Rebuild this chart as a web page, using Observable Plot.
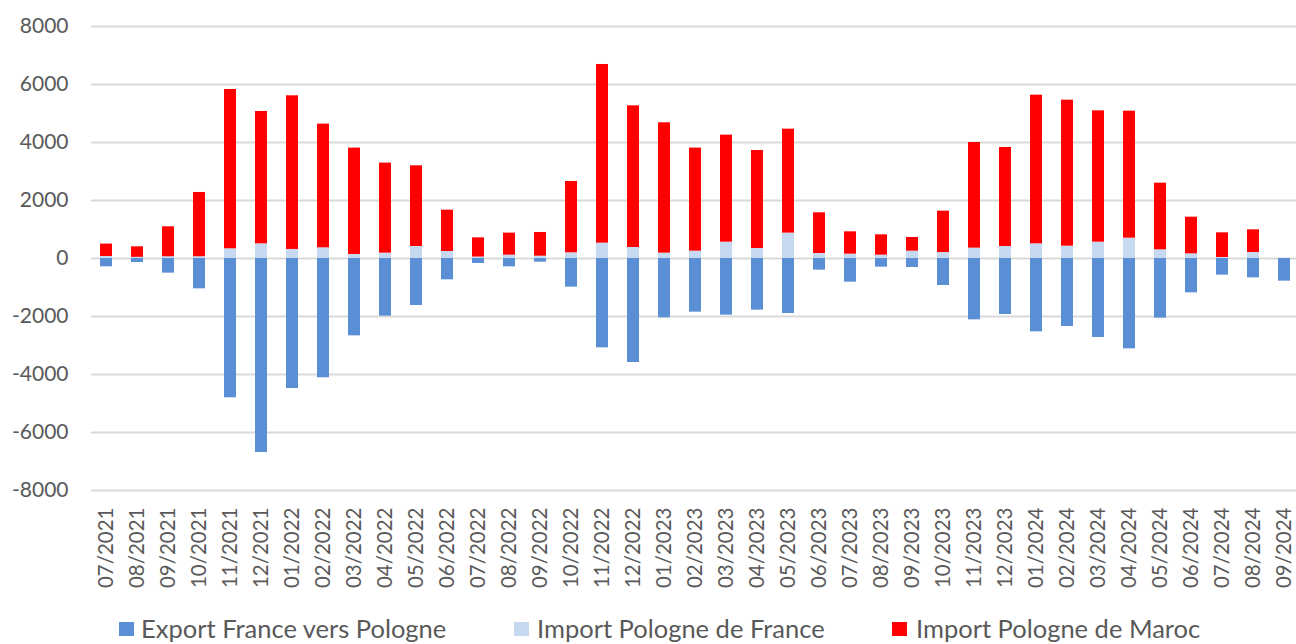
<!DOCTYPE html>
<html>
<head>
<meta charset="utf-8">
<script src="https://cdn.jsdelivr.net/npm/d3@7"></script>
<script src="https://cdn.jsdelivr.net/npm/@observablehq/plot@0.6"></script>
<style>
  html, body { margin: 0; padding: 0; background: #fff; }
  #chart { width: 1296px; height: 644px; position: relative; overflow: hidden; }
  .sw { position: absolute; top: 622px; width: 15px; height: 14px; }
  .lt { position: absolute; top: 615px; line-height: 26px; font-family: Lato, "Open Sans", sans-serif; font-size: 25.5px; color: #595959; white-space: nowrap; }
</style>
</head>
<body>
<div id="chart"></div>
<script>
const months = ["07/2021","08/2021","09/2021","10/2021","11/2021","12/2021","01/2022","02/2022","03/2022","04/2022","05/2022","06/2022","07/2022","08/2022","09/2022","10/2022","11/2022","12/2022","01/2023","02/2023","03/2023","04/2023","05/2023","06/2023","07/2023","08/2023","09/2023","10/2023","11/2023","12/2023","01/2024","02/2024","03/2024","04/2024","05/2024","06/2024","07/2024","08/2024","09/2024"];

const exportFranceVersPologne = [-286,-138,-504,-1045,-4803,-6689,-4483,-4114,-2667,-1988,-1620,-735,-172,-287,-126,-988,-3081,-3586,-2046,-1850,-1954,-1781,-1896,-402,-816,-298,-310,-931,-2115,-1931,-2529,-2345,-2724,-3115,-2057,-1184,-574,-667,-781];

const importPologneDeFrance = [69,40,60,60,334,506,312,368,139,185,414,242,50,115,80,196,529,379,185,253,563,345,875,173,150,115,253,207,357,414,506,425,563,701,299,161,35,207,0];

const importPologneDeMaroc = [428,363,1033,2216,5494,4563,5298,4266,3668,3105,2782,1425,663,760,817,2460,6161,4886,4494,3554,3690,3379,3585,1402,770,701,472,1426,3643,3414,5126,5035,4529,4379,2299,1264,850,782,0];

const seriesNames = ["Export France vers Pologne", "Import Pologne de France", "Import Pologne de Maroc"];
const seriesColors = ["#5A8FD6", "#C6D9F0", "#FF0000"];
const yTicks = [-8000,-6000,-4000,-2000,0,2000,4000,6000,8000];

const seriesValues = [exportFranceVersPologne, importPologneDeFrance, importPologneDeMaroc];
const rows = [];
seriesNames.forEach((s, si) => {
  months.forEach((m, i) => rows.push({month: m, series: s, value: seriesValues[si][i]}));
});

const plot = Plot.plot({
  width: 1296,
  height: 612,
  marginLeft: 91,
  marginRight: 0,
  marginTop: 26,
  marginBottom: 122,
  style: {fontFamily: "Lato, 'Open Sans', sans-serif", color: "#595959", background: "#fff"},
  x: {domain: months, range: [91, 1300], paddingInner: 0.61, paddingOuter: 0.305, label: null},
  y: {domain: [-8000, 8000], label: null},
  color: {domain: seriesNames, range: seriesColors},
  marks: [
    Plot.gridY(yTicks, {stroke: "#d9d9d9", strokeOpacity: 1, strokeWidth: 2}),
    Plot.barY(rows, {x: "month", y: "value", fill: "series", order: seriesNames}),
    Plot.axisY(yTicks, {tickSize: 0, tickPadding: 23, fontSize: 21, fill: "#595959", label: null, tickFormat: d => String(d)}),
    Plot.axisX({tickSize: 0, tickRotate: -90, tickPadding: 17, fontSize: 20.5, fill: "#595959", label: null})
  ]
});

const chart = document.getElementById("chart");
chart.appendChild(plot);

const swLefts = [119, 514, 892];
const textLefts = [141, 537, 916];
seriesNames.forEach((s, i) => {
  const sw = document.createElement("div");
  sw.className = "sw";
  sw.style.left = swLefts[i] + "px";
  sw.style.background = seriesColors[i];
  const t = document.createElement("div");
  t.className = "lt";
  t.style.left = textLefts[i] + "px";
  t.textContent = s;
  chart.appendChild(sw);
  chart.appendChild(t);
});
</script>
</body>
</html>
